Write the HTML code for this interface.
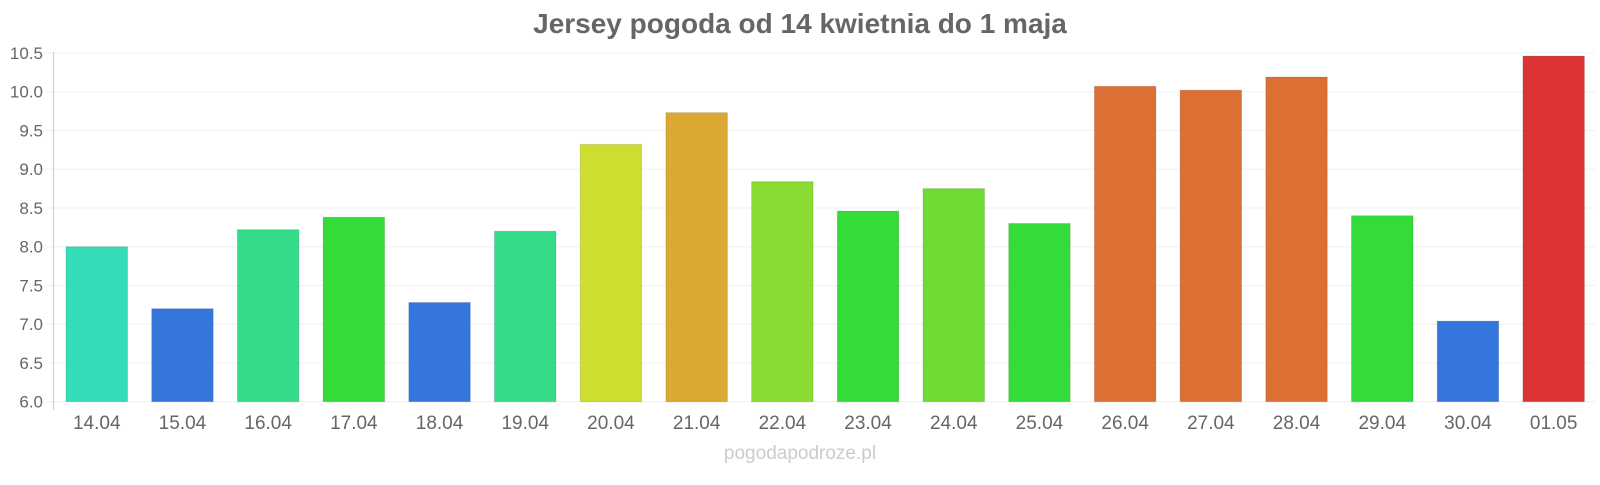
<!DOCTYPE html>
<html><head><meta charset="utf-8"><style>
body{margin:0;background:#fff;}
text{font-family:"Liberation Sans",Arial,sans-serif;}
</style></head><body>
<svg width="1600" height="480" xmlns="http://www.w3.org/2000/svg">
<text x="800" y="33" text-anchor="middle" font-size="28" font-weight="bold" fill="#666">Jersey pogoda od 14 kwietnia do 1 maja</text>
<g id="grid" stroke="#f0f0f0" stroke-width="1"></g>
<g id="bars"></g>
<line x1="53.5" y1="52" x2="53.5" y2="410" stroke="#ccc" stroke-width="1"/>
<g id="ylab" font-size="17" fill="#666" text-anchor="end"></g>
<g id="xlab" font-size="19" fill="#666" text-anchor="middle"></g>
<text x="800" y="459" text-anchor="middle" font-size="19" fill="#ccc">pogodapodroze.pl</text>
</svg>
<script>
const ns="http://www.w3.org/2000/svg";
const y0=401.7,y1=53,k=(y0-y1)/4.5;
const Y=v=>y0-(v-6)*k;
const g=document.getElementById('grid'),yl=document.getElementById('ylab');
for(let i=0;i<=9;i++){const v=6+i*0.5,y=Y(v);
let l=document.createElementNS(ns,'line');l.setAttribute('x1',46);l.setAttribute('x2',1595);l.setAttribute('y1',y);l.setAttribute('y2',y);g.appendChild(l);
let t=document.createElementNS(ns,'text');t.setAttribute('x',43);t.setAttribute('y',y+6);t.textContent=v.toFixed(1);yl.appendChild(t);}
const d=[[8.0,'#34dcb8','14.04'],[7.2,'#3476dc','15.04'],[8.22,'#34dc8a','16.04'],[8.38,'#34dc3a','17.04'],[7.28,'#3476dc','18.04'],[8.2,'#34dc8a','19.04'],[9.32,'#cfdc30','20.04'],[9.73,'#dca834','21.04'],[8.84,'#8adc34','22.04'],[8.46,'#34dc3a','23.04'],[8.75,'#6edc34','24.04'],[8.3,'#34dc3a','25.04'],[10.07,'#dc7034','26.04'],[10.02,'#dc7034','27.04'],[10.19,'#dc7034','28.04'],[8.4,'#34dc3a','29.04'],[7.04,'#3476dc','30.04'],[10.46,'#dc3434','01.05']];
const b=document.getElementById('bars'),xl=document.getElementById('xlab');
d.forEach((e,i)=>{const x=66+85.7*i,y=Y(e[0]);
let r=document.createElementNS(ns,'rect');r.setAttribute('x',x);r.setAttribute('y',y);r.setAttribute('width',61.5);r.setAttribute('height',y0-y);r.setAttribute('fill',e[1]);r.setAttribute('stroke','rgba(0,0,0,0.12)');b.appendChild(r);
let t=document.createElementNS(ns,'text');t.setAttribute('x',x+30.75);t.setAttribute('y',429);t.textContent=e[2];xl.appendChild(t);});
</script>
</body></html>
